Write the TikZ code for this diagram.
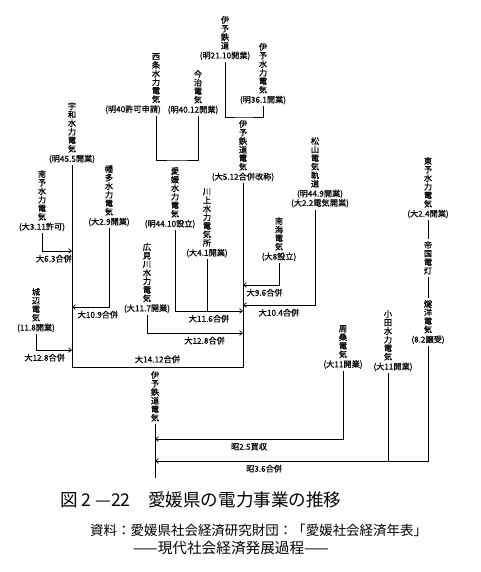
\documentclass[tikz,border=0pt]{standalone}
\usepackage{fontspec}
\newfontfamily\jp{Noto Sans CJK JP}
\newfontfamily\jpb[FakeBold=0.6]{Noto Sans CJK JP}
\usetikzlibrary{arrows.meta, positioning}

\begin{document}
\begin{tikzpicture}[
  x=0.03cm, y=-0.03cm,
  co/.style={anchor=north, align=center, inner sep=0pt,
             font=\jpb\fontsize{7}{7.3}\selectfont},
  yr/.style={inner xsep=0pt, inner ysep=1.5pt,
             font=\jpb\fontsize{7}{8}\selectfont},
  mg/.style={inner sep=0pt, font=\jpb\fontsize{7}{8}\selectfont},
  ln/.style={line width=0.6pt},
  arr/.style={ln, -{Straight Barb[length=2.5pt, width=4pt]}}
]
\useasboundingbox (0,0) rectangle (480,572);

\node[co] (tetsu) at (225,16) {伊\\予\\鉄\\道};
\node[yr, below=0pt of tetsu] (tetsuY) {(明21.10開業)};
\node[co] (isui) at (263,43) {伊\\予\\水\\力\\電\\気};
\node[yr, below=0pt of isui] (isuiY) {(明36.1開業)};
\node[co] (iden) at (243,120) {伊\\予\\鉄\\道\\電\\気};
\node[yr, below=0pt of iden] (idenY) {(大5.12合併改称)};
\coordinate (j1) at (243,117);
\draw[ln] (tetsuY) |- (j1) -| (isuiY);

\node[co] (saijo) at (156,53) {西\\条\\水\\力\\電\\気};
\node[yr, below=0pt of saijo, xshift=-0.69cm] (saijoY) {(明40許可申請)};
\node[co] (imabari) at (198,70) {今\\治\\電\\気};
\node[yr, below=0pt of imabari, xshift=-0.15cm] (imabariY) {(明40.12開業)};
\coordinate (j2) at (177,160);
\draw[ln] (saijo |- saijoY.south) |- (j2) -| (imabari |- imabariY.south);

\node[co] (ehime) at (175,167) {愛\\媛\\水\\力\\電\\気};
\node[yr, below=0pt of ehime, xshift=-0.15cm] (ehimeY) {(明44.10設立)};
\node[co] (kawa) at (207,188) {川\\上\\水\\力\\電\\気\\所};
\node[yr, below=0pt of kawa] (kawaY) {(大4.1開業)};
\coordinate (m116) at (243,311);
\draw[arr] (ehime |- ehimeY.south) |- (m116)
  node[mg, pos=0.75, below=3pt] {大11.6合併};
\draw[ln] (kawaY) -- (kawaY |- m116);

\node[co] (hiromi) at (147,243) {広\\見\\川\\水\\力\\電\\気};
\node[yr, below=0pt of hiromi] (hiromiY) {(大11.7開業)};
\coordinate (m128) at (243,333);
\draw[arr] (hiromiY) |- (m128)
  node[mg, pos=0.8, below=3pt] {大12.8合併};

\node[co] (matsu) at (315,137) {松\\山\\電\\気\\軌\\道};
\node[yr, below=0pt of matsu, xshift=0.15cm, align=center] (matsuY)
  {(明44.9開業)\\(大2.2電気開業)};
\coordinate (m104) at (243,305);
\draw[arr] (matsu |- matsuY.south) |- (m104)
  node[mg, pos=0.75, below=3pt] {大10.4合併};

\node[co] (nankai) at (279,217) {南\\海\\電\\気};
\node[yr, below=0pt of nankai] (nankaiY) {(大8設立)};
\coordinate (m96) at (243,285);
\draw[arr] (nankaiY) |- (m96)
  node[mg, pos=0.7, below=3pt] {大9.6合併};

\node[co] (uwa) at (72,102) {宇\\和\\水\\力\\電\\気};
\node[yr, below=0pt of uwa] (uwaY) {(明45.5開業)};
\node[co] (nanyo) at (42,170) {南\\予\\水\\力\\電\\気};
\node[yr, below=0pt of nanyo] (nanyoY) {(大3.11許可)};
\coordinate (m63) at (72,251);
\draw[arr] (nanyoY) |- (m63)
  node[mg, pos=0.7, below=3pt] {大6.3合併};

\node[co] (hata) at (109,165) {幡\\多\\水\\力\\電\\気};
\node[yr, below=0pt of hata] (hataY) {(大2.9開業)};
\coordinate (m109) at (72,307);
\draw[arr] (hataY) |- (m109)
  node[mg, pos=0.65, below=3pt] {大10.9合併};

\node[co] (johen) at (36,288) {城\\辺\\電\\気};
\node[yr, below=0pt of johen] (johenY) {(11.8開業)};
\coordinate (m128b) at (72,350);
\draw[arr] (johenY) |- (m128b)
  node[mg, pos=0.62, below=3pt] {大12.8合併};

\coordinate (b14) at (155,367);
\draw[ln] (uwaY) -- (uwaY |- b14) --
  node[mg, above=3pt] {大14.12合併} (idenY |- b14) -- (idenY);

\node[co] (iden2) at (155,371) {伊\\予\\鉄\\道\\電\\気};
\coordinate (tail) at (155,478);
\draw[ln, shorten <=2pt] (iden2) -- (tail);

\node[co] (shuso) at (343,325) {周\\桑\\電\\気};
\node[yr, below=0pt of shuso] (shusoY) {(大11開業)};
\coordinate (s25) at (155,439);
\draw[arr] (shusoY) |- (s25)
  node[mg, pos=0.75, below=3pt] {昭2.5買収};

\node[co] (oda) at (388,310) {小\\田\\水\\力\\電\\気};
\node[yr, below=0pt of oda, xshift=0.15cm] (odaY) {(大11開業)};

\node[co] (toyo) at (428,157) {東\\予\\水\\力\\電\\気};
\node[yr, below=0pt of toyo] (toyoY) {(大2.4開業)};
\node[co] (teikoku) at (428,241) {帝\\国\\電\\灯};
\node[co] (suiyo) at (428,300) {燧\\洋\\電\\気};
\node[yr, below=0pt of suiyo] (suiyoY) {(8.2譲受)};
\draw[ln, shorten >=2pt] (toyoY) -- (teikoku);
\draw[ln, shorten <=2pt, shorten >=2pt] (teikoku) -- (suiyo);
\coordinate (s36) at (155,461);
\draw[arr] (suiyoY) |- (s36)
  node[mg, pos=0.8, below=3pt] {昭3.6合併};
\draw[ln] (oda |- odaY.south) -- (oda |- s36);

\node[anchor=west, inner sep=0pt, font=\jp\fontsize{15}{17}\selectfont]
  (title) at (60,500) {図 2 —22　愛媛県の電力事業の推移};
\node[anchor=west, inner sep=0pt, font=\jp\fontsize{11.5}{14}\selectfont]
  (src) at (90,530) {資料：愛媛県社会経済研究財団：「愛媛社会経済年表」};
\node[anchor=west, inner sep=0pt, font=\jp\fontsize{12.5}{14}\selectfont]
  (sub) at (133,548) {——現代社会経済発展過程——};
\end{tikzpicture}
\end{document}
